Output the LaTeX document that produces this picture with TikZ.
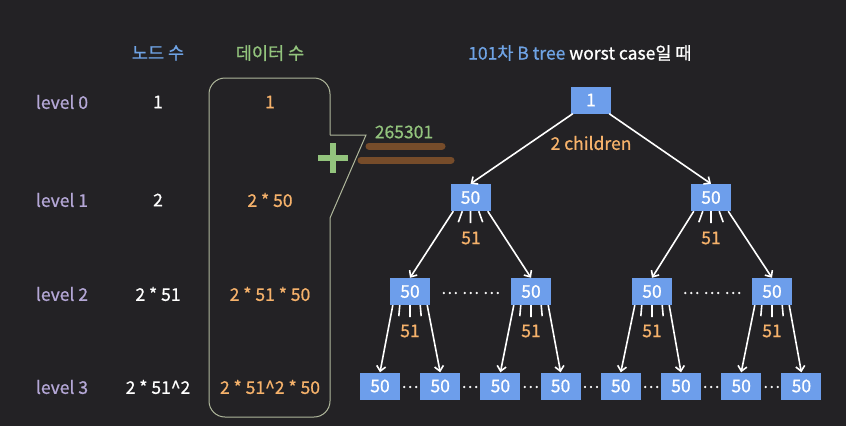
\documentclass[tikz,border=0pt]{standalone}
\usepackage{fontspec}
\setmainfont{Noto Sans CJK KR}[FakeBold=0.8]
\usepackage{tikz}
\usetikzlibrary{positioning, arrows.meta}

\definecolor{bg}{RGB}{35,34,37}
\definecolor{boxblue}{RGB}{109,158,235}
\definecolor{hblue}{RGB}{111,163,228}
\definecolor{hgreen}{RGB}{147,196,125}
\definecolor{lorange}{RGB}{246,178,107}
\definecolor{lpurple}{RGB}{180,167,214}
\definecolor{frame}{RGB}{176,184,156}
\definecolor{brown}{RGB}{118,76,42}

\begin{document}
\begin{tikzpicture}[x=1pt, y=-1pt]
		\tikzstyle{box}=[rectangle, fill=boxblue, minimum width=40pt, minimum height=27pt, inner sep=0pt, text=white, font=\fontsize{17.5}{20}\selectfont]
		\tikzstyle{txt}=[inner sep=0pt, font=\fontsize{17.5}{20}\selectfont]
		\tikzstyle{arrow}=[-{Straight Barb[length=5pt, width=9pt]}, white, line width=1.6pt]
		\tikzstyle{fan}=[white, line width=1.6pt]
		\tikzstyle{dots}=[inner sep=0pt, text=white, font=\fontsize{16}{16}\selectfont]

		\fill[bg] (0,0) rectangle (846,426);
		\useasboundingbox (0,0) rectangle (846,426);

		% headers
		\node[txt, text=hblue] (hnodes) at (158,53) {노드 수};
		\node[txt, text=hgreen] (hdata) at (270,53) {데이터 수};
		\node[txt, anchor=west, text=white] (title) at (468,53) {{\color{hblue}101차 B tree} worst case일 때};

		% table
		\node[txt, text=lpurple] (lvl0) at (62,102) {level 0};
		\node[txt, text=lpurple] (lvl1) at (62,200) {level 1};
		\node[txt, text=lpurple] (lvl2) at (62,294) {level 2};
		\node[txt, text=lpurple] (lvl3) at (62,387) {level 3};

		\node[txt, text=white] (cnt0) at (158,102) {1};
		\node[txt, text=white] (cnt1) at (158,200) {2};
		\node[txt, text=white] (cnt2) at (158,294) {2 * 51};
		\node[txt, text=white] (cnt3) at (158,387) {2 * 51\textasciicircum 2};

		\node[txt, text=lorange] (dat0) at (270,102) {1};
		\node[txt, text=lorange] (dat1) at (270,200) {2 * 50};
		\node[txt, text=lorange] (dat2) at (270,294) {2 * 51 * 50};
		\node[txt, text=lorange] (dat3) at (270,387) {2 * 51\textasciicircum 2 * 50};

		% bracket and sum
		\draw[frame, line width=1pt, rounded corners=16pt] (330,135) -- (330,78) -- (209,78) -- (209,417) -- (330,417) -- (330,218);
		\draw[frame, line width=1pt] (330,135) -- (366,135) -- (330,218);
		\draw[hgreen, line width=6pt] (318,158) -- (348,158) (333,143) -- (333,173);
		\node[txt, text=hgreen] (total) at (404,132) {265301};
		\draw[brown, line width=7pt, line cap=round] (369,146) -- (442,146);
		\draw[brown, line width=7pt, line cap=round] (361,160) -- (451,160);

		% tree
		\node[box] (root) at (591,100) {1};
		\node[box] (childA) at (470.5,197.5) {50};
		\node[box] (childB) at (711,197.5) {50};

		\node[box] (gcA) at (410,291.5) {50};
		\node[box] (gcB) at (531,291.5) {50};
		\node[box] (gcC) at (652,291.5) {50};
		\node[box] (gcD) at (772,291.5) {50};

		\begin{scope}[node distance=60.2pt]
		\node[box] (leafA) at (380,386) {50};
		\node[box, right of=leafA] (leafB) {50};
		\node[box, right of=leafB] (leafC) {50};
		\node[box, right of=leafC] (leafD) {50};
		\node[box, right of=leafD] (leafE) {50};
		\node[box, right of=leafE] (leafF) {50};
		\node[box, right of=leafF] (leafG) {50};
		\node[box, right of=leafG] (leafH) {50};
		\end{scope}

		\draw[arrow] ([xshift=2pt]root.south west) -- (childA.north);
		\draw[arrow] ([xshift=-2pt]root.south east) -- (childB.north);
		\node[txt, text=lorange] (two) at (591,143) {2 children};

		\draw[arrow] ([xshift=3pt]childA.south west) -- (gcA.north);
		\draw[arrow] ([xshift=-3pt]childA.south east) -- (gcB.north);
		\draw[arrow] ([xshift=3pt]childB.south west) -- (gcC.north);
		\draw[arrow] ([xshift=-3pt]childB.south east) -- (gcD.north);

		\draw[arrow] ([xshift=3pt]gcA.south west) -- (leafA.north);
		\draw[arrow] ([xshift=-3pt]gcA.south east) -- (leafB.north);
		\draw[arrow] ([xshift=3pt]gcB.south west) -- (leafC.north);
		\draw[arrow] ([xshift=-3pt]gcB.south east) -- (leafD.north);
		\draw[arrow] ([xshift=3pt]gcC.south west) -- (leafE.north);
		\draw[arrow] ([xshift=-3pt]gcC.south east) -- (leafF.north);
		\draw[arrow] ([xshift=3pt]gcD.south west) -- (leafG.north);
		\draw[arrow] ([xshift=-3pt]gcD.south east) -- (leafH.north);

		% fans
		\draw[fan] ([xshift=12pt]childA.south west) -- ++(-4,11) (childA.south) -- ++(0,12) ([xshift=-12pt]childA.south east) -- ++(4,11);
		\draw[fan] ([xshift=12pt]childB.south west) -- ++(-4,11) (childB.south) -- ++(0,12) ([xshift=-12pt]childB.south east) -- ++(4,11);
		\node[txt, text=lorange] (fanA) at (471,238) {51};
		\node[txt, text=lorange] (fanB) at (711,238) {51};

		\draw[fan] ([xshift=10pt]gcA.south west) -- ++(-1,11) (gcA.south) -- ++(0,12) ([xshift=-10pt]gcA.south east) -- ++(1,11);
		\draw[fan] ([xshift=10pt]gcB.south west) -- ++(-1,11) (gcB.south) -- ++(0,12) ([xshift=-10pt]gcB.south east) -- ++(1,11);
		\draw[fan] ([xshift=10pt]gcC.south west) -- ++(-1,11) (gcC.south) -- ++(0,12) ([xshift=-10pt]gcC.south east) -- ++(1,11);
		\draw[fan] ([xshift=10pt]gcD.south west) -- ++(-1,11) (gcD.south) -- ++(0,12) ([xshift=-10pt]gcD.south east) -- ++(1,11);
		\node[txt, text=lorange] (fanC) at (410,331) {51};
		\node[txt, text=lorange] (fanD) at (531,331) {51};
		\node[txt, text=lorange] (fanE) at (652,331) {51};
		\node[txt, text=lorange] (fanF) at (772,331) {51};

		% dots
		\node[dots] (dotsA) at (470.5,293) {⋯\hspace{4pt}⋯\hspace{4pt}⋯};
		\node[dots] (dotsB) at (712,293) {⋯\hspace{4pt}⋯\hspace{4pt}⋯};
		\node[dots] (dotsAB) at (410,387) {⋯};
		\node[dots] (dotsBC) at (470,387) {⋯};
		\node[dots] (dotsCD) at (530.5,387) {⋯};
		\node[dots] (dotsDE) at (590.7,387) {⋯};
		\node[dots] (dotsEF) at (651,387) {⋯};
		\node[dots] (dotsFG) at (711,387) {⋯};
		\node[dots] (dotsGH) at (771.5,387) {⋯};

	\end{tikzpicture}
\end{document}
